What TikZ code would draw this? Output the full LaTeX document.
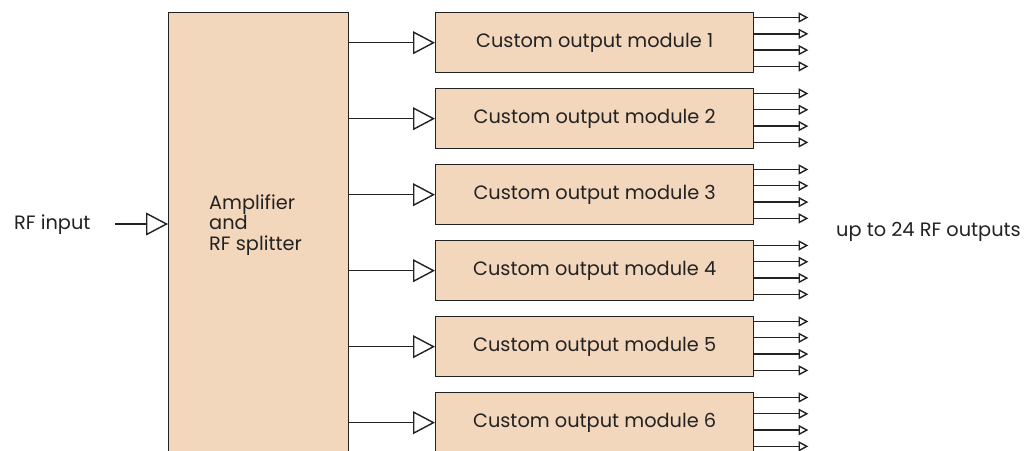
\documentclass[tikz,border=0pt]{standalone}
\usepackage{fontspec}
\setmainfont{Poppins}
\usetikzlibrary{positioning, arrows.meta}
\definecolor{peach}{HTML}{F3D7BD}
\definecolor{edge}{HTML}{222222}

\begin{document}
\begin{tikzpicture}[x=0.02cm, y=-0.02cm,
    lbl/.style={font=\fontsize{11}{11.6}\selectfont, text=edge},
    block/.style={draw=edge, fill=peach, line width=0.8pt, inner sep=0pt},
    module/.style={block, lbl, minimum width=6.36cm, minimum height=1.2cm},
    bigtip/.style={draw=edge, line width=0.8pt, -{Triangle[open, length=12.5pt, width=13pt]}},
    smalltip/.style={draw=edge, line width=0.8pt, -{Triangle[open, length=5.6pt, width=5.8pt]}}]

    \useasboundingbox (0,0) rectangle (1024,450);
    \clip (0,0) rectangle (1024,450);

    % splitter block, runs past the bottom edge
    \node[block, minimum width=3.6cm, minimum height=9.4cm, anchor=north west] (splitter) at (168,12) {};
    \node[lbl, anchor=west, align=left] (splittext) at (203,225) {Amplifier\\and\\RF splitter};

    % input side
    \node[lbl, anchor=west] (rfin) at (8,225) {RF input};
    \coordinate (instart) at (115,224);
    \draw[bigtip] (instart) -- (instart -| splitter.west);

    % output modules
    \node[module, anchor=north west] (mod1) at (435,12) {Custom output module 1};
    \foreach \i [count=\j from 1] in {2,...,6}
        \node[module, below=0.292cm of mod\j] (mod\i) {Custom output module \i};

    % feeds and outputs
    \foreach \i in {1,...,6} {
        \draw[bigtip] (splitter.east |- mod\i.west) -- (mod\i.west);
        \foreach \k in {1,...,4} {
            \coordinate (out\i\k) at ([yshift={-(5.5+16.3*(\k-1))*0.02cm}]mod\i.north east);
            \draw[smalltip] (out\i\k) -- ++(54,0);
        }
    }

    \node[lbl, anchor=west] (outlabel) at (830,232) {up to 24 RF outputs};

\end{tikzpicture}
\end{document}
